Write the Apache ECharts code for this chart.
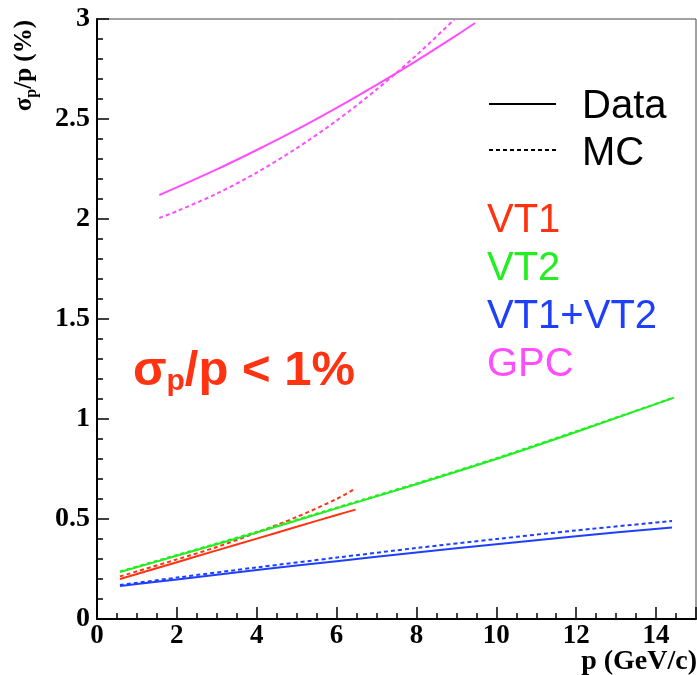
<!DOCTYPE html>
<html><head><meta charset="utf-8">
<script src="https://cdn.jsdelivr.net/npm/echarts@6/dist/echarts.min.js"></script>
<style>html,body{margin:0;padding:0;background:#fff}#c{width:697px;height:675px}</style>
</head><body><div id="c"></div>
<script>
// ---- data ----
const vt1X    = [0.575, 2, 3, 4, 5, 6, 6.475];
const vt1Data = [0.200, 0.284, 0.343, 0.402, 0.461, 0.520, 0.547];
const vt1Mc   = [0.213, 0.298, 0.360, 0.432, 0.510, 0.600, 0.653];

const vt2X    = [0.575, 2, 4, 6, 8, 10, 12, 14.45];
const vt2Data = [0.235, 0.316, 0.432, 0.553, 0.674, 0.800, 0.935, 1.107];
const vt2Mc   = [0.238, 0.320, 0.436, 0.557, 0.678, 0.804, 0.939, 1.107];

const vt12X    = [0.575, 2, 4, 6, 8, 10, 12, 14.4];
const vt12Data = [0.165, 0.198, 0.245, 0.289, 0.333, 0.374, 0.414, 0.458];
const vt12Mc   = [0.170, 0.207, 0.258, 0.307, 0.355, 0.400, 0.443, 0.490];

const gpcX    = [1.56, 2, 3, 4, 5, 6, 7, 8, 9, 9.47];
const gpcData = [2.12, 2.158, 2.248, 2.345, 2.447, 2.556, 2.671, 2.791, 2.918, 2.98];
const gpcMcX  = [1.56, 2, 3, 4, 5, 6, 7, 8, 8.95];
const gpcMc   = [2.005, 2.039, 2.127, 2.232, 2.354, 2.492, 2.647, 2.819, 2.998];

const xTicks = [0, 2, 4, 6, 8, 10, 12, 14];
const yTicks = [0, 0.5, 1, 1.5, 2, 2.5, 3];

const legendNames = ['VT1', 'VT2', 'VT1+VT2', 'GPC'];
const colors = {VT1: '#ff3311', VT2: '#22ee22', 'VT1+VT2': '#1f3fff', GPC: '#ff4dff'};

// ---- build ----
const zip = (xs, ys) => xs.map((x, i) => [x, ys[i]]);
function mk(name, xs, ys, dashed) {
  return {
    type: 'line', name: name, data: zip(xs, ys), showSymbol: false, smooth: 0.3,
    lineStyle: {color: colors[name], width: 2, type: dashed ? [4, 3] : 'solid'},
    silent: true, animation: false, z: dashed ? 3 : 4
  };
}
const series = [
  mk('VT1', vt1X, vt1Data, false), mk('VT1', vt1X, vt1Mc, true),
  mk('VT2', vt2X, vt2Data, false), mk('VT2', vt2X, vt2Mc, true),
  mk('VT1+VT2', vt12X, vt12Data, false), mk('VT1+VT2', vt12X, vt12Mc, true),
  mk('GPC', gpcX, gpcData, false), mk('GPC', gpcMcX, gpcMc, true)
];

const serif = 'Liberation Serif';
const sans = 'Liberation Sans';
const graphics = [
  // y axis title
  {type: 'text', left: 12, top: 20, rotation: Math.PI / 2, originX: 0, originY: 0,
   style: {text: '{a|σ}{s|p}{a|/p (%)}', rich: {
     a: {fontFamily: serif, fontWeight: 'bold', fontSize: 25, fill: '#000'},
     s: {fontFamily: serif, fontWeight: 'bold', fontSize: 16, fill: '#000', padding: [14, 0, 0, 0]}
   }}},
  // x axis title
  {type: 'text', right: 0, top: 648, style: {text: 'p (GeV/c)',
     font: 'bold 28px "Liberation Serif"', fill: '#000'}},
  // legend: Data / MC
  {type: 'line', shape: {x1: 489, y1: 104, x2: 556, y2: 104}, style: {stroke: '#000', lineWidth: 2}},
  {type: 'text', left: 582, top: 87, style: {text: 'Data', font: '40px "Liberation Sans"', fill: '#000'}},
  {type: 'line', shape: {x1: 489, y1: 150, x2: 556, y2: 150}, style: {stroke: '#000', lineWidth: 2, lineDash: [4, 3]}},
  {type: 'text', left: 582, top: 134, style: {text: 'MC', font: '40px "Liberation Sans"', fill: '#000'}},
  // annotation
  {type: 'text', left: 133, top: 347, style: {text: '{a|σ}{s|p}{a|/p < 1%}', rich: {
     a: {fontFamily: sans, fontWeight: 'bold', fontSize: 49, fill: '#ff3311'},
     s: {fontFamily: sans, fontWeight: 'bold', fontSize: 30, fill: '#ff3311', padding: [20, 0, 0, 0]}
  }}}
];
legendNames.forEach((n, i) => {
  graphics.push({type: 'text', left: 487, top: 201 + i * 48,
    style: {text: n, font: '40px "Liberation Sans"', fill: colors[n]}});
});

const chart = echarts.init(document.getElementById('c'));
chart.setOption({
  animation: false,
  backgroundColor: '#fff',
  grid: {left: 97, top: 19, right: 1, bottom: 56, show: true, borderColor: '#444', borderWidth: 1,
         containLabel: false, outerBoundsMode: 'none'},
  xAxis: {
    type: 'value', min: 0, max: 15, interval: 2,
    axisLine: {lineStyle: {color: '#000', width: 2}},
    axisTick: {inside: true, length: 12, lineStyle: {color: '#000', width: 1.5}},
    minorTick: {show: true, splitNumber: 4, length: 6, lineStyle: {color: '#000', width: 1.5}},
    splitLine: {show: false},
    axisLabel: {fontFamily: serif, fontWeight: 'bold', fontSize: 27, color: '#000', margin: 4,
      formatter: v => xTicks.includes(v) ? String(v) : ''}
  },
  yAxis: {
    type: 'value', min: 0, max: 3, interval: 0.5,
    axisLine: {lineStyle: {color: '#000', width: 2}},
    axisTick: {inside: true, length: 12, lineStyle: {color: '#000', width: 1.5}},
    minorTick: {show: true, splitNumber: 5, length: 6, lineStyle: {color: '#000', width: 1.5}},
    splitLine: {show: false},
    axisLabel: {fontFamily: serif, fontWeight: 'bold', fontSize: 28, color: '#000', margin: 7,
      formatter: v => yTicks.includes(v) ? String(v) : ''}
  },
  graphic: graphics,
  series: series
});
</script></body></html>
